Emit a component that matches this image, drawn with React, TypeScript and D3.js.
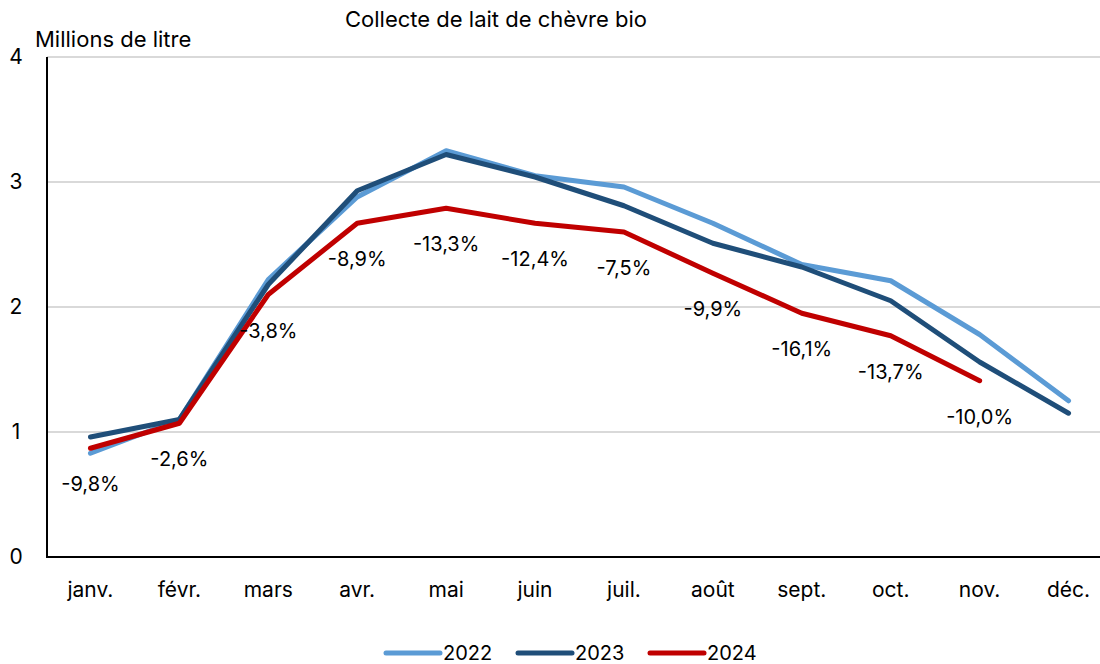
import React, { useEffect, useRef } from 'react';
import * as d3 from 'd3';

const months = ['janv.', 'févr.', 'mars', 'avr.', 'mai', 'juin', 'juil.', 'août', 'sept.', 'oct.', 'nov.', 'déc.'];
const v2022 = [0.83, 1.10, 2.22, 2.88, 3.25, 3.05, 2.96, 2.67, 2.34, 2.21, 1.78, 1.25];
const v2023 = [0.96, 1.10, 2.18, 2.93, 3.22, 3.04, 2.81, 2.51, 2.32, 2.05, 1.56, 1.15];
const v2024 = [0.87, 1.07, 2.10, 2.67, 2.79, 2.67, 2.60, 2.27, 1.95, 1.77, 1.41];
const changes = ['-9,8%', '-2,6%', '-3,8%', '-8,9%', '-13,3%', '-12,4%', '-7,5%', '-9,9%', '-16,1%', '-13,7%', '-10,0%'];
const yTicks = [0, 1, 2, 3, 4];

const series = [
  { name: '2022', values: v2022, color: '#5b9bd5' },
  { name: '2023', values: v2023, color: '#1f4e79' },
  { name: '2024', values: v2024, color: '#c00000' },
];

const font = 'Inter, "Noto Sans", sans-serif';

export default function App() {
  const ref = useRef<SVGSVGElement>(null);

  useEffect(() => {
    const width = 1100;
    const height = 664;
    const svg = d3.select(ref.current);
    svg.selectAll('*').remove();
    svg.attr('width', width).attr('height', height);

    const x = d3.scaleBand().domain(months).range([46, 1113]);
    const y = d3.scaleLinear().domain([0, 4]).range([557, 57]);
    const cx = (i: number) => (x(months[i]) as number) + x.bandwidth() / 2;

    // grid
    svg.append('g')
      .selectAll('line')
      .data(yTicks.slice(1))
      .enter().append('line')
      .attr('x1', 47).attr('x2', width)
      .attr('y1', d => y(d)).attr('y2', d => y(d))
      .attr('stroke', '#d9d9d9').attr('stroke-width', 2);

    // axes
    svg.append('line').attr('x1', 47).attr('x2', 47).attr('y1', y(4)).attr('y2', y(0))
      .attr('stroke', '#000').attr('stroke-width', 2);
    svg.append('line').attr('x1', 46).attr('x2', width).attr('y1', y(0)).attr('y2', y(0))
      .attr('stroke', '#000').attr('stroke-width', 2);

    svg.append('g')
      .selectAll('text')
      .data(yTicks)
      .enter().append('text')
      .attr('x', 16).attr('y', d => y(d))
      .attr('dy', '0.35em')
      .attr('text-anchor', 'middle')
      .style('font-family', font).style('font-size', '21px')
      .text(d => d);

    svg.append('g')
      .selectAll('text')
      .data(months)
      .enter().append('text')
      .attr('x', (d, i) => cx(i)).attr('y', 590)
      .attr('dy', '0.35em')
      .attr('text-anchor', 'middle')
      .style('font-family', font).style('font-size', '21px')
      .text(d => d);

    svg.append('text').attr('x', 35).attr('y', 47)
      .style('font-family', font).style('font-size', '22px')
      .text('Millions de litre');
    svg.append('text').attr('x', 496).attr('y', 27)
      .attr('text-anchor', 'middle')
      .style('font-family', font).style('font-size', '22px')
      .text('Collecte de lait de chèvre bio');

    const line = d3.line<number>().x((d, i) => cx(i)).y(d => y(d));
    series.forEach(s => {
      svg.append('path')
        .datum(s.values)
        .attr('fill', 'none')
        .attr('stroke', s.color)
        .attr('stroke-width', 5)
        .attr('stroke-linejoin', 'round')
        .attr('stroke-linecap', 'round')
        .attr('d', line);
    });

    svg.append('g')
      .selectAll('text')
      .data(changes)
      .enter().append('text')
      .attr('x', (d, i) => cx(i)).attr('y', (d, i) => y(v2024[i]) + 36)
      .attr('dy', '0.35em')
      .attr('text-anchor', 'middle')
      .style('font-family', font).style('font-size', '20px')
      .text(d => d);

    // legend
    const legend = svg.append('g')
      .selectAll('g')
      .data(series)
      .enter().append('g')
      .attr('transform', (d, i) => `translate(${386 + i * 132},653)`);
    legend.append('line').attr('x1', 0).attr('x2', 54).attr('y1', 0).attr('y2', 0)
      .attr('stroke', d => d.color).attr('stroke-width', 5).attr('stroke-linecap', 'round');
    legend.append('text').attr('x', 57).attr('y', 0).attr('dy', '0.35em')
      .style('font-family', font).style('font-size', '20px')
      .text(d => d.name);
  }, []);

  return (
    <div style={{ position: 'absolute', left: 0, top: 0 }}>
      <svg ref={ref} style={{ display: 'block' }}></svg>
    </div>
  );
}
